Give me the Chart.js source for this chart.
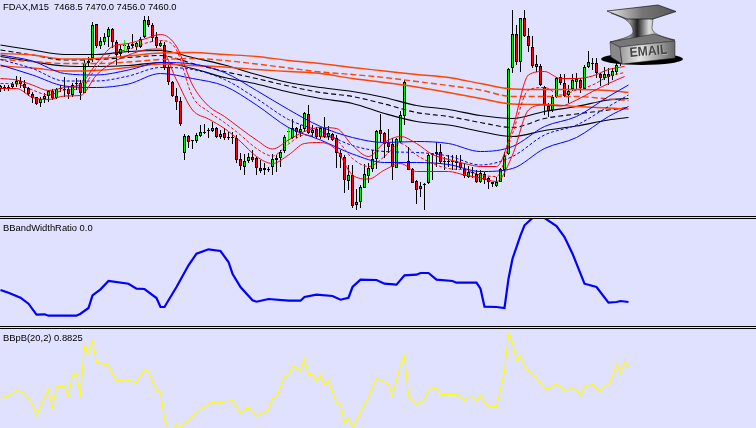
<!DOCTYPE html>
<html>
<head>
<meta charset="utf-8">
<title>FDAX,M15</title>
<script src="https://cdn.jsdelivr.net/npm/chart.js@4"></script>
<style>
  html, body { margin: 0; padding: 0; background: #e0e0ff; overflow: hidden; }
  #page { position: relative; width: 756px; height: 428px; background: #e0e0ff; }
  canvas { position: absolute; left: 0; display: block; }
  .rule { position: absolute; left: 0; width: 756px; height: 1px; background: #000; }
  .title { position: absolute; left: 3px; font: 9.4px "Liberation Sans", sans-serif; color: #000; white-space: pre; line-height: 12px; z-index: 3; }
  #logo { position: absolute; left: 0; top: 0; z-index: 4; }
</style>
</head>
<body>
<div id="page">
  <canvas id="priceChart" width="756" height="216" style="top:0"></canvas>
  <canvas id="widthChart" width="756" height="107" style="top:219px"></canvas>
  <canvas id="percentChart" width="756" height="99" style="top:329px"></canvas>
  <div class="rule" style="top:216px"></div>
  <div class="rule" style="top:218px"></div>
  <div class="rule" style="top:326px"></div>
  <div class="rule" style="top:328px"></div>
  <div class="title" style="top:1px">FDAX,M15  7468.5 7470.0 7456.0 7460.0</div>
  <div class="title" style="top:222px">BBandWidthRatio 0.0</div>
  <div class="title" style="top:332px">BBpB(20,2) 0.8825</div>
  <svg id="logo" width="756" height="428" viewBox="0 0 756 428">
    <defs>
      <linearGradient id="waist" x1="0" x2="1" y1="0" y2="0">
        <stop offset="0" stop-color="#555"/><stop offset="0.3" stop-color="#999"/>
        <stop offset="0.42" stop-color="#222"/><stop offset="0.6" stop-color="#ddd"/>
        <stop offset="0.78" stop-color="#888"/><stop offset="1" stop-color="#444"/>
      </linearGradient>
      <linearGradient id="plate" x1="0" x2="1" y1="0" y2="0">
        <stop offset="0" stop-color="#eee"/><stop offset="0.5" stop-color="#777"/><stop offset="1" stop-color="#555"/>
      </linearGradient>
      <linearGradient id="face" x1="0" x2="1" y1="0" y2="0">
        <stop offset="0" stop-color="#999"/><stop offset="0.35" stop-color="#e4e4e4"/><stop offset="1" stop-color="#666"/>
      </linearGradient>
    </defs>
    <ellipse cx="642" cy="59" rx="41" ry="6" fill="#000"/>
    <path d="M611 13 L623 18 C630 22 633 27 633 32 C632 36 625 38 610 42 L675 40 C660 36 653 34 652 28 L653 19 Z" fill="url(#waist)" stroke="#222" stroke-width="0.5"/>
    <path d="M607 11 L658 5 L676 11.5 L653 19 L627 19 Z" fill="url(#plate)" stroke="#111" stroke-width="0.7"/>
    <path d="M610 42 L620 47 L622 64 L611 57 Z" fill="#888" stroke="#222" stroke-width="0.5"/>
    <path d="M610 42 L654 34 L675 41 L620 47 Z" fill="#777" stroke="#222" stroke-width="0.5"/>
    <path d="M620 47 L675 41 L675 58 L622 64 Z" fill="url(#face)" stroke="#222" stroke-width="0.5"/>
    <text x="630.5" y="57.5" transform="rotate(-5 630 57)" font-family="Liberation Sans" font-weight="bold" font-size="13.5" fill="#fff" fill-opacity="0.6" textLength="38" lengthAdjust="spacingAndGlyphs">EMAIL</text>
    <text x="630" y="57" transform="rotate(-5 630 57)" font-family="Liberation Sans" font-weight="bold" font-size="13.5" fill="#444" textLength="38" lengthAdjust="spacingAndGlyphs">EMAIL</text>
  </svg>
</div>
<script>
// candles, price per bar
const opens = [
  7431,7433,7432,7433,7436,7439,7436,7432,7426,7423,
  7417,7421,7424,7429,7422,7431,7431,7431,7425,7436,
  7437,7427,7457,7462,7496,7474,7478,7483,7491,7478,
  7466,7475,7471,7474,7473,7473,7483,7500,7495,7483,
  7474,7475,7453,7438,7424,7419,7367,7384,7380,7379,
  7384,7388,7389,7389,7392,7383,7387,7383,7382,7382,
  7361,7353,7359,7363,7362,7352,7352,7351,7353,7360,
  7362,7369,7389,7382,7392,7388,7391,7406,7387,7391,
  7383,7392,7383,7386,7382,7367,7363,7339,7345,7315,
  7318,7332,7344,7351,7361,7390,7387,7377,7376,7352,
  7378,7404,7359,7351,7339,7331,7336,7337,7365,7366,
  7368,7359,7358,7359,7359,7357,7351,7343,7347,7346,
  7338,7346,7342,7336,7334,7338,7350,7366,7452,7486,
  7458,7502,7484,7473,7453,7454,7433,7414,7410,7423,
  7443,7437,7425,7431,7438,7440,7431,7453,7457,7457,
  7446,7442,7446,7444,7448,7456,7468.5
];
const highs = [
  7435,7435,7435,7438,7444,7443,7440,7433,7428,7423,
  7423,7427,7430,7431,7432,7435,7443,7434,7437,7442,
  7440,7460,7463,7498,7496,7483,7487,7493,7492,7480,
  7475,7476,7477,7486,7478,7483,7504,7504,7497,7488,
  7479,7478,7455,7439,7432,7423,7386,7385,7380,7387,
  7395,7396,7392,7398,7393,7390,7392,7388,7388,7385,
  7367,7366,7367,7370,7363,7360,7357,7353,7366,7365,
  7370,7385,7390,7401,7393,7395,7408,7415,7395,7393,
  7393,7403,7394,7387,7385,7370,7365,7355,7355,7331,
  7335,7356,7357,7370,7390,7406,7388,7391,7382,7382,
  7409,7440,7373,7352,7340,7338,7337,7366,7367,7378,
  7376,7363,7365,7365,7365,7365,7357,7354,7353,7350,
  7350,7348,7343,7338,7343,7352,7368,7452,7510,7495,
  7502,7510,7492,7484,7465,7456,7434,7417,7425,7443,
  7446,7446,7435,7446,7447,7442,7455,7469,7462,7462,
  7447,7453,7452,7452,7458,7464,7470
];
const lows = [
  7428,7429,7429,7431,7433,7432,7427,7424,7417,7415,
  7413,7417,7418,7420,7421,7428,7423,7421,7423,7430,
  7420,7427,7454,7458,7472,7471,7475,7473,7472,7455,
  7463,7473,7467,7472,7470,7472,7482,7493,7478,7472,
  7473,7450,7435,7423,7410,7394,7360,7372,7371,7377,
  7383,7386,7382,7388,7382,7381,7380,7380,7376,7357,
  7350,7345,7357,7358,7345,7347,7345,7348,7345,7348,
  7353,7367,7387,7381,7382,7383,7388,7386,7383,7382,
  7381,7382,7380,7379,7352,7352,7327,7330,7312,7310,
  7312,7332,7337,7348,7351,7378,7362,7367,7340,7352,
  7377,7395,7350,7337,7316,7323,7310,7336,7340,7353,
  7356,7350,7353,7350,7350,7350,7342,7342,7342,7337,
  7337,7336,7331,7333,7333,7338,7343,7365,7447,7455,
  7448,7483,7468,7452,7448,7434,7405,7403,7408,7422,
  7435,7423,7417,7429,7430,7427,7430,7452,7450,7442,
  7434,7440,7435,7440,7445,7454,7456
];
const closes = [
  7434,7432,7433,7436,7439,7436,7432,7426,7422,7416,
  7421,7424,7429,7422,7431,7432,7430,7426,7435,7437,
  7427,7457,7459,7495,7474,7479,7483,7491,7478,7465,
  7471,7474,7474,7476,7477,7481,7500,7495,7482,7474,
  7477,7452,7438,7424,7418,7396,7384,7378,7379,7385,
  7388,7387,7390,7392,7383,7386,7382,7382,7383,7360,
  7354,7359,7363,7360,7352,7349,7350,7350,7361,7362,
  7368,7383,7388,7392,7388,7391,7407,7387,7390,7383,
  7392,7383,7387,7380,7367,7363,7340,7345,7314,7318,
  7333,7346,7352,7361,7389,7386,7376,7373,7353,7381,
  7405,7438,7350,7337,7330,7334,7335,7365,7366,7368,
  7358,7358,7359,7358,7357,7352,7344,7348,7348,7338,
  7347,7340,7338,7338,7338,7351,7364,7451,7486,7458,
  7502,7484,7474,7454,7456,7435,7415,7409,7423,7442,
  7437,7424,7429,7440,7441,7432,7453,7458,7456,7447,
  7442,7446,7443,7449,7455,7462,7460
];

// signal arrows
const arrowBars = [31, 72];
const arrowLows = [7468, 7377];
const arrowHighs = [7480, 7393];

// slow bands share these bars
const slowBars = [0,8,16,24,32,40,48,56,64,72,80,88,96,104,112,120,128,136,144,152,157];
const orangeUpper = [7466.5,7465,7461,7461.5,7464,7467,7467.5,7465.5,7463.5,7459.5,7456.5,7452.5,7449,7445.5,7442.5,7436.5,7431,7430.5,7430.5,7429.5,7427.5];
const orangeMiddle = [7460.5,7458.5,7456.5,7456.5,7458,7460.5,7461.5,7459.5,7456,7452,7448,7445.5,7442.5,7438.5,7434.5,7430,7423.5,7423.5,7423.5,7421,7419.5];
const orangeLower = [7454,7452,7449,7449.5,7452.5,7456,7454.5,7453,7450.5,7448.5,7446.5,7441.5,7437.5,7433,7427.5,7421.5,7416,7415.5,7413.5,7412,7411];
const blackUpper = [7475,7470,7465.5,7465.5,7468.5,7469.5,7462.5,7455,7445.5,7437.5,7432.5,7428.5,7422.5,7414.5,7410.5,7404.5,7401.5,7408.5,7413.5,7420,7421.5];
const blackMiddle = [7470,7465,7460,7460.5,7462.5,7464.5,7456.5,7448.5,7441.5,7434,7427.5,7423.5,7416,7407.5,7403.5,7397.5,7392.5,7401.5,7406,7410,7412.5];
const blackLower = [7463.5,7458.5,7454,7453.5,7454.5,7457.5,7451.5,7442.5,7436,7428,7421.5,7416.5,7406.5,7398.5,7395,7388.5,7383.5,7389.5,7394,7400,7402.5];
const blueUpper = [7465,7459,7446.5,7445,7450,7457.5,7456,7447.5,7429.5,7410.5,7393.5,7382.5,7377.5,7378.5,7376.5,7368.5,7373.5,7393.5,7403.5,7423.5,7435];
const blueMiddle = [7460.5,7451.5,7439,7439,7444,7452.5,7450.5,7440.5,7421.5,7400.5,7388.5,7374.5,7368.5,7367.5,7364,7355,7363.5,7385,7395,7413.5,7425];
const blueLower = [7455,7445,7434,7432.5,7436,7446.5,7441.5,7434,7415,7392.5,7380,7366,7357.5,7357.5,7355.5,7348.5,7351.5,7371.5,7382.5,7403.5,7413.5];

// fast band
const fastBars = [0,4,8,12,16,20,24,28,32,36,40,44,48,52,56,60,64,68,72,76,80,84,88,92,96,100,104,108,112,116,120,124,128,132,136,140,144,148,152,156];
const redUpper = [7441.5,7440,7435,7429.5,7432.5,7436,7456.5,7473.5,7476.5,7481,7485.5,7473.5,7435,7414,7403.5,7391.5,7380,7371,7380,7388.5,7392.5,7391.5,7374.5,7363.5,7377.5,7383.5,7376.5,7365.5,7360.5,7356.5,7353.5,7353.5,7391.5,7445,7448.5,7441.5,7441.5,7444,7450.5,7453.5];
const redMiddle = [7436.5,7436,7430,7425,7430,7431.5,7452.5,7466.5,7470.5,7476.5,7479.5,7470,7423.5,7408.5,7397.5,7385,7371.5,7364,7376,7385,7383.5,7380,7361.5,7353.5,7363.5,7376.5,7365,7356.5,7351.5,7350,7345,7343.5,7386.5,7430,7432.5,7425,7430,7435,7443.5,7447.5];
const redLower = [7431.5,7431.5,7422.5,7420.5,7424,7424.5,7445,7457.5,7465,7470,7471,7440,7410,7401,7391.5,7378.5,7363.5,7356.5,7365,7376.5,7377.5,7370,7345,7341,7350,7356.5,7348.5,7348.5,7348.5,7345,7342,7338.5,7365,7410,7415,7414,7420,7428.5,7436.5,7443.5];

// BBandWidthRatio
const widthBars = [0,2,5,7,9,11,12,19,20,22,23,25,27,32,34,36,39,40,41,42,44,47,49,52,55,57,58,60,63,64,67,72,75,76,79,83,85,87,88,90,94,96,99,101,104,105,107,109,113,114,119,120,121,124,126,127,128,130,131,133,134,136,139,141,143,146,149,152,154,155,157];
const widthValues = [.36,.333,.283,.223,.113,.117,.103,.103,.123,.18,.307,.367,.45,.423,.373,.37,.28,.19,.19,.257,.39,.607,.723,.767,.75,.64,.523,.39,.257,.243,.27,.253,.253,.29,.313,.3,.263,.283,.39,.463,.46,.423,.413,.507,.513,.53,.53,.463,.45,.433,.433,.373,.193,.19,.18,.473,.673,.907,1.007,1.08,1.123,1.08,1,.89,.723,.423,.39,.233,.24,.25,.24];

// BBpB(20,2)
const percentBars = [0,2,4,6,8,9,12,13,14,16,17,18,19,20,21,22,23,24,27,29,31,34,36,37,39,40,41,42,43,44,45,47,50,53,54,58,60,62,64,67,68,69,71,72,73,75,76,77,78,79,80,81,82,84,85,86,87,88,89,91,92,94,96,97,98,100,101,102,103,104,106,107,108,109,110,114,116,117,118,119,120,121,122,124,126,127,128,129,130,131,133,134,136,137,139,141,143,144,145,146,148,149,150,151,152,153,154,155,156,157];
const percentValues = [.434,.463,.546,.497,.352,.183,.56,.304,.594,.608,.463,.763,.777,.483,1.188,1.087,1.256,.956,.908,.681,.7,.657,.85,.811,.546,.521,.135,-.01,-.034,.053,.014,.111,.27,.376,.362,.396,.217,.299,.174,.256,.425,.449,.739,.763,.893,.835,.995,.772,.777,.676,.763,.632,.69,.367,.343,.087,.144,0,.111,.338,.449,.715,.666,.632,.473,.908,1.043,.473,.386,.338,.41,.546,.579,.579,.487,.487,.4,.444,.444,.396,.473,.376,.318,.304,.811,1.362,1.246,.98,1.053,.908,.763,.729,.579,.565,.642,.546,.57,.546,.473,.594,.632,.57,.531,.618,.618,.739,.932,.792,.956,.884];

const candleUp = '#00ee00';
const candleDown = '#ff0000';

function toPoints(bars, values) {
  return bars.map((bar, i) => ({ x: bar, y: values[i] }));
}

function lineSet(bars, values, color, width, dash, order, smooth) {
  return {
    type: 'line',
    data: toPoints(bars, values),
    borderColor: color,
    borderWidth: width,
    borderDash: dash,
    pointRadius: 0,
    tension: 0,
    cubicInterpolationMode: smooth ? 'monotone' : 'default',
    fill: false,
    order
  };
}

function renderPane(canvasId, yMin, yMax, datasets) {
  return new Chart(document.getElementById(canvasId), {
    type: 'bar',
    data: { datasets },
    options: {
      responsive: false,
      animation: false,
      devicePixelRatio: 1,
      layout: { padding: 0 },
      plugins: { legend: { display: false }, tooltip: { enabled: false } },
      scales: {
        x: { type: 'linear', offset: false, min: -0.125, max: 188.875, display: false },
        y: { type: 'linear', min: yMin, max: yMax, display: false }
      }
    }
  });
}

const candleBars = opens.map((_, i) => i);

renderPane('priceChart', 7304, 7520, [
  {
    data: candleBars.map((bar) => ({ x: bar, y: [lows[bar], highs[bar]] })),
    backgroundColor: '#000',
    barThickness: 1,
    grouped: false,
    inflateAmount: 0,
    order: 6
  },
  {
    data: candleBars.map((bar) => ({ x: bar, y: [opens[bar], closes[bar]] })),
    backgroundColor: candleBars.map((bar) => (closes[bar] >= opens[bar] ? candleUp : candleDown)),
    borderColor: '#000',
    borderWidth: 1,
    borderSkipped: false,
    barThickness: 3,
    grouped: false,
    inflateAmount: 0,
    order: 5
  },
  {
    data: arrowBars.map((bar, i) => ({ x: bar, y: [arrowLows[i], arrowHighs[i]] })),
    backgroundColor: '#00ff00',
    barThickness: 1,
    grouped: false,
    inflateAmount: 0,
    order: 4
  },
  lineSet(slowBars, orangeUpper, '#ff4500', 1.4, [], 3, true),
  lineSet(slowBars, orangeMiddle, '#ff4500', 1.4, [6, 3], 3, true),
  lineSet(slowBars, orangeLower, '#ff4500', 1.4, [], 3, true),
  lineSet(slowBars, blackUpper, '#000', 1.1, [], 3, true),
  lineSet(slowBars, blackMiddle, '#000', 1.1, [5, 3], 3, true),
  lineSet(slowBars, blackLower, '#000', 1.1, [], 3, true),
  lineSet(slowBars, blueUpper, '#0000ff', 1, [], 2, true),
  lineSet(slowBars, blueMiddle, '#0000ff', 1, [3, 2], 2, true),
  lineSet(slowBars, blueLower, '#0000ff', 1, [], 2, true),
  lineSet(fastBars, redUpper, '#ff0000', 1, [], 1, true),
  lineSet(fastBars, redMiddle, '#ff0000', 1, [3, 2], 1, true),
  lineSet(fastBars, redLower, '#ff0000', 1, [], 1, true)
]);

renderPane('widthChart', 0, 1.07, [
  lineSet(widthBars, widthValues, '#0000ff', 2.2, [], 1, false)
]);

renderPane('percentChart', 0, 1.435, [
  lineSet(percentBars, percentValues, '#ffff00', 1.2, [], 1, false)
]);
</script>
</body>
</html>
